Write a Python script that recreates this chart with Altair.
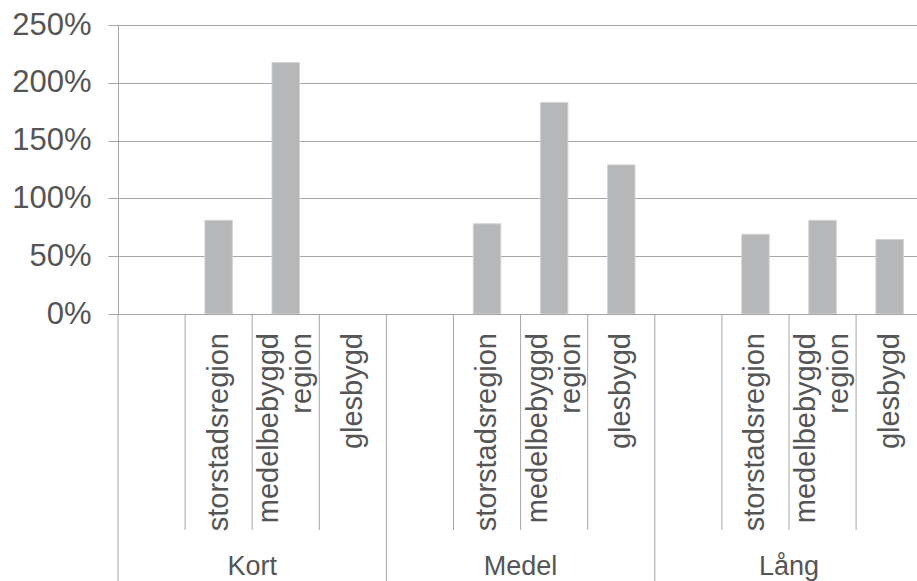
import altair as alt
import pandas as pd

# ---- data ----
groups = ["Kort", "Medel", "Lång"]
subcats = ["", "storstadsregion", "medelbebyggd region", "glesbygd"]
sub_lines = [[""], ["storstadsregion"], ["medelbebyggd", "region"], ["glesbygd"]]
kort = [None, 0.81, 2.175, None]
medel = [None, 0.78, 1.83, 1.29]
lang = [None, 0.69, 0.81, 0.645]
series = [kort, medel, lang]
y_ticks = [0, 0.5, 1.0, 1.5, 2.0, 2.5]

# ---- layout / style ----
PLOT_W, PLOT_H = 799, 289
SLOT_PX = 67.1
N_SUB = len(subcats)
X_MAX = PLOT_W / SLOT_PX
BAR_FRAC = 0.41
FONT = "Liberation Sans"
TXT = "#555555"
GRID = "#a6a6a6"
LINE_H = 33
SUB_FS = 29

rows = []
for gi, g in enumerate(groups):
    for si, s in enumerate(subcats):
        slot = gi * N_SUB + si
        nl = len(sub_lines[si])
        rows.append({
            "group": g, "sub": s, "slot": slot,
            "x0": slot + 0.5 - BAR_FRAC / 2, "x1": slot + 0.5 + BAR_FRAC / 2,
            "xc": slot + 0.5 - (nl - 1) * LINE_H / 2 / SLOT_PX,
            "value": series[gi][si],
            "lines": sub_lines[si],
        })
df = pd.DataFrame(rows)
bars_df = df.dropna(subset=["value"])
labels_df = df[df["sub"] != ""]

div_rows = []
for gi in range(len(groups)):
    for si in range(N_SUB):
        div_rows.append({"pos": gi * N_SUB + si, "kind": "group" if si == 0 else "sub"})
div_df = pd.DataFrame(div_rows)

grp_df = pd.DataFrame({"group": groups,
                       "center": [gi * N_SUB + N_SUB / 2 for gi in range(len(groups))]})

xscale = alt.Scale(domain=[0, X_MAX], nice=False, zero=False)
yscale = alt.Scale(domain=[0, 2.5], nice=False)

base_y = alt.Y("value:Q", scale=yscale,
               axis=alt.Axis(values=y_ticks, format=".0%", title=None,
                             labelFontSize=31, labelFont=FONT, labelColor=TXT,
                             labelPadding=17, tickSize=10, tickColor=GRID,
                             domainColor=GRID, gridColor=GRID, grid=True))

bars = alt.Chart(bars_df).mark_bar(color="#b6b7b9", stroke="#d2d3d4",
                                   strokeWidth=1, clip=True).encode(
    x=alt.X("x0:Q", scale=xscale, axis=None),
    x2="x1:Q",
    y=base_y,
    y2=alt.datum(0),
)

group_div = alt.Chart(div_df[div_df["kind"] == "group"]).mark_rule(
    color=GRID, strokeWidth=1).encode(
    x=alt.X("pos:Q", scale=xscale, axis=None),
    y=alt.value(PLOT_H),
    y2=alt.value(PLOT_H + 268),
)
sub_div = alt.Chart(div_df[div_df["kind"] == "sub"]).mark_rule(
    color=GRID, strokeWidth=1).encode(
    x=alt.X("pos:Q", scale=xscale, axis=None),
    y=alt.value(PLOT_H),
    y2=alt.value(PLOT_H + 216),
)

sub_text = alt.Chart(labels_df).mark_text(
    angle=270, align="right", baseline="middle", font=FONT, fontSize=SUB_FS,
    color=TXT, lineHeight=LINE_H).encode(
    x=alt.X("xc:Q", scale=xscale, axis=None),
    y=alt.value(PLOT_H + 19),
    text="lines",
)

grp_text = alt.Chart(grp_df).mark_text(
    align="center", baseline="middle", font=FONT, fontSize=27, color=TXT).encode(
    x=alt.X("center:Q", scale=xscale, axis=None),
    y=alt.value(PLOT_H + 253),
    text="group:N",
)

chart = alt.layer(bars, group_div, sub_div, sub_text, grp_text).properties(
    width=PLOT_W, height=PLOT_H,
    autosize=alt.AutoSizeParams(type="none"),
    padding={"left": 118, "top": 25, "right": 0, "bottom": 267},
).configure_view(stroke=None).configure(background="white")

chart.save("out.html", embed_options={"renderer": "svg", "actions": False})
